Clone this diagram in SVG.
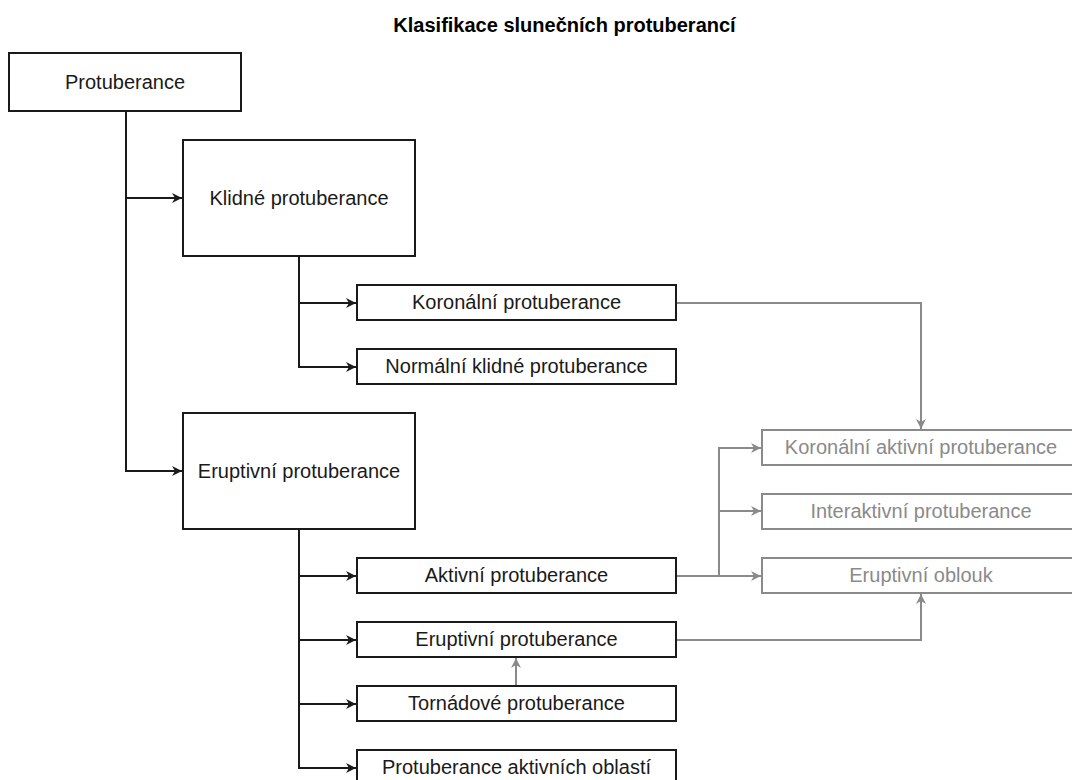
<svg xmlns="http://www.w3.org/2000/svg" width="1072" height="780" viewBox="0 0 1072 780">
<defs>
<style>
.b{fill:#fff;stroke:#1a1a1a;stroke-width:2}
.g{fill:#fff;stroke:#8a8a8a;stroke-width:2}
.t{font-family:"Liberation Sans",Arial,sans-serif;font-size:20px;fill:#1a1a1a;text-anchor:middle}
.tg{font-family:"Liberation Sans",Arial,sans-serif;font-size:20px;fill:#8a8a8a;text-anchor:middle}
.lb{fill:none;stroke:#1a1a1a;stroke-width:2}
.lg{fill:none;stroke:#8a8a8a;stroke-width:2}
</style>
<marker id="ab" viewBox="0 0 10 10" refX="10" refY="5" markerWidth="10" markerHeight="10" markerUnits="userSpaceOnUse" orient="auto">
<path d="M0,0 L10,5 L0,10 L3,5 z" fill="#1a1a1a"/>
</marker>
<marker id="ag" viewBox="0 0 10 10" refX="10" refY="5" markerWidth="10" markerHeight="10" markerUnits="userSpaceOnUse" orient="auto">
<path d="M0,0 L10,5 L0,10 L3,5 z" fill="#8a8a8a"/>
</marker>
</defs>
<rect width="1072" height="780" fill="#fff"/>
<text x="564.5" y="32" font-family="'Liberation Sans',Arial,sans-serif" font-size="20" font-weight="bold" text-anchor="middle" fill="#000">Klasifikace slunečních protuberancí</text>
<g id="connectors">
<polyline class="lb" points="126,111 126,471 182,471" marker-end="url(#ab)"/>
<polyline class="lb" points="126,198 182,198" marker-end="url(#ab)"/>
<polyline class="lb" points="299,256 299,367 356,367" marker-end="url(#ab)"/>
<polyline class="lb" points="299,303 356,303" marker-end="url(#ab)"/>
<polyline class="lb" points="299,529 299,768 356,768" marker-end="url(#ab)"/>
<polyline class="lb" points="299,576 356,576" marker-end="url(#ab)"/>
<polyline class="lb" points="299,640 356,640" marker-end="url(#ab)"/>
<polyline class="lb" points="299,704 356,704" marker-end="url(#ab)"/>
<polyline class="lg" points="676,303 921,303 921,429" marker-end="url(#ag)"/>
<polyline class="lg" points="676,576 761,576" marker-end="url(#ag)"/>
<polyline class="lg" points="719,576 719,448 761,448" marker-end="url(#ag)"/>
<polyline class="lg" points="719,511 761,511" marker-end="url(#ag)"/>
<polyline class="lg" points="676,640 921,640 921,594" marker-end="url(#ag)"/>
<polyline class="lg" points="516,686 516,658" marker-end="url(#ag)"/>
</g>
<g id="n1"><rect class="b" x="9" y="53" width="232" height="58"/><text class="t" x="125" y="89">Protuberance</text></g>
<g id="n2"><rect class="b" x="183" y="140" width="232" height="116"/><text class="t" x="299" y="205">Klidné protuberance</text></g>
<g id="n3"><rect class="b" x="357" y="285" width="319" height="35"/><text class="t" x="516.5" y="309">Koronální protuberance</text></g>
<g id="n4"><rect class="b" x="357" y="349" width="319" height="35"/><text class="t" x="516.5" y="373">Normální klidné protuberance</text></g>
<g id="n5"><rect class="b" x="183" y="413" width="232" height="116"/><text class="t" x="299" y="478">Eruptivní protuberance</text></g>
<g id="n6"><rect class="b" x="357" y="558" width="319" height="35"/><text class="t" x="516.5" y="582">Aktivní protuberance</text></g>
<g id="n7"><rect class="b" x="357" y="622" width="319" height="35"/><text class="t" x="516.5" y="646">Eruptivní protuberance</text></g>
<g id="n8"><rect class="b" x="357" y="686" width="319" height="35"/><text class="t" x="516.5" y="710">Tornádové protuberance</text></g>
<g id="n9"><rect class="b" x="357" y="750" width="319" height="35"/><text class="t" x="516.5" y="774">Protuberance aktivních oblastí</text></g>
<g id="n10"><rect class="g" x="762" y="430" width="319" height="35"/><text class="tg" x="921" y="454">Koronální aktivní protuberance</text></g>
<g id="n11"><rect class="g" x="762" y="494" width="319" height="35"/><text class="tg" x="921" y="518">Interaktivní protuberance</text></g>
<g id="n12"><rect class="g" x="762" y="558" width="319" height="35"/><text class="tg" x="921" y="582">Eruptivní oblouk</text></g>
</svg>
